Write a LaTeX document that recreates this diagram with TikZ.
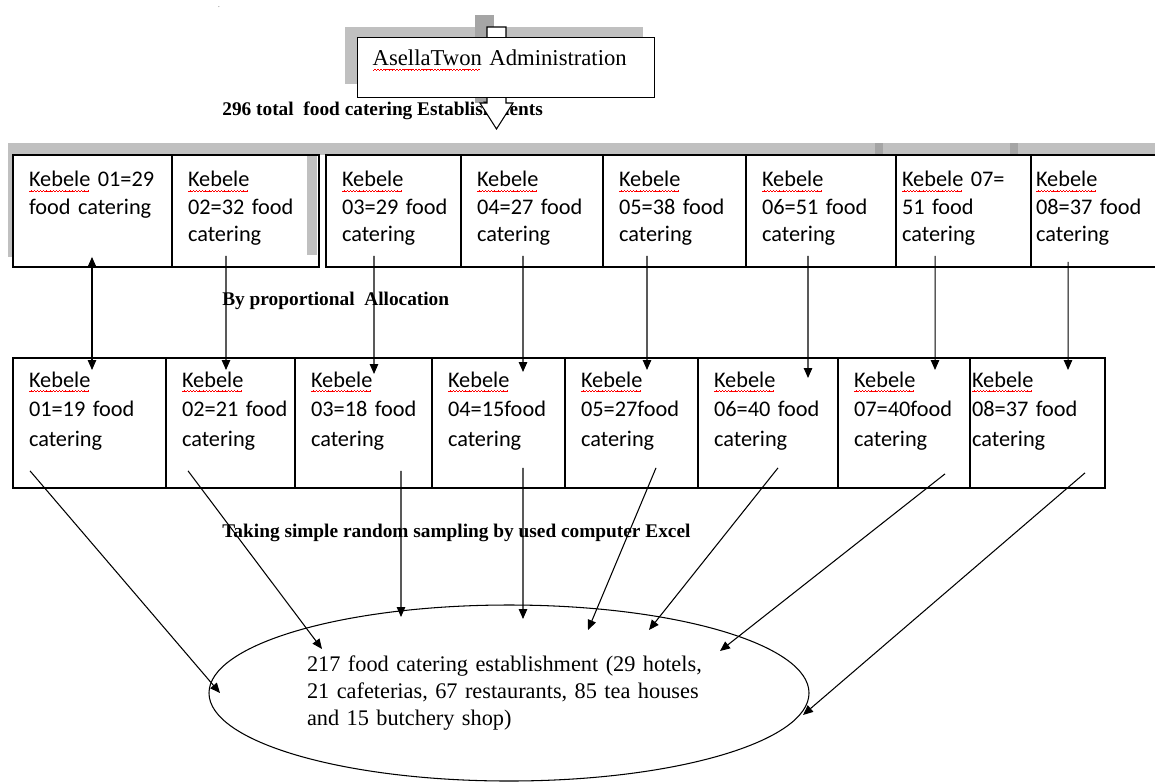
\documentclass[tikz,border=0pt]{standalone}
\usepackage{fontspec}
\setmainfont{Liberation Serif}
\newfontfamily\kebfont{Carlito}
\usepackage{xcolor}
\usetikzlibrary{positioning, shapes.geometric, arrows.meta}

\definecolor{shadowgray}{RGB}{192,192,192}
\definecolor{shadowdark}{RGB}{165,165,165}

% red spell-check wave under a word
\newsavebox{\spellbox}
\newcommand{\wavebit}{\hbox{\rule[-2.9pt]{0.45pt}{0.45pt}\rule[-2.5pt]{0.45pt}{0.45pt}\rule[-2.1pt]{0.45pt}{0.45pt}\rule[-2.5pt]{0.45pt}{0.45pt}}}
\newcommand{\spell}[1]{\sbox{\spellbox}{#1}\rlap{\color{red}\leaders\wavebit\hskip\wd\spellbox}\usebox{\spellbox}}

\begin{document}
\begin{tikzpicture}[
        x=0.2mm, y=-0.2mm,
        kebox/.style={draw, line width=0.8pt, outer sep=0pt, inner xsep=3.2mm, align=left, text width=#1, text height=10pt, font=\kebfont\fontsize{12.7}{15.6}\selectfont},
        toprow/.style={kebox=#1, inner ysep=8.2pt, text depth=37.3pt},
        botrow/.style={kebox=#1, inner ysep=6.5pt, text depth=50.9pt, font=\kebfont\fontsize{12.7}{16.8}\selectfont},
        remark/.style={font=\fontsize{11}{13}\selectfont\bfseries, inner sep=0pt, anchor=base west},
        wordshadow/.style={fill=shadowgray, draw=none},
        arrow/.style={-{Triangle[length=2mm, width=1.7mm]}, line width=0.6pt},
        dblarrow/.style={{Triangle[length=2mm, width=1.7mm]}-{Triangle[length=2mm, width=1.7mm]}, line width=0.6pt},
    ]
    \useasboundingbox (0,0) rectangle (1155,783);

    % shadows
    \fill[wordshadow] (345,27) rectangle (643,84);
    \fill[shadowdark] (475,15) rectangle (494,103);
    \fill[wordshadow] (8,143) rectangle (317,155);
    \fill[wordshadow] (8,155) rectangle (13,257);
    \fill[wordshadow] (307,155) rectangle (317,255);
    \fill[wordshadow] (313,143) rectangle (1155,155);
    \fill[shadowdark] (875,143) rectangle (883,155);
    \fill[shadowdark] (1010,143) rectangle (1018,155);

    \node[font=\tiny, text=gray] (dot) at (219,7) {.};

    % administration and block arrow
    \node[remark] (total) at (222,115) {296 total\ \ food catering Establishments};
    \draw[fill=white, line width=0.6pt] (487,27) -- (506,27) -- (506,103) -- (513,103) -- (496.5,129) -- (480,103) -- (487,103) -- cycle;
    \node[draw, fill=white, line width=0.8pt, anchor=north west, inner xsep=3mm, inner ysep=6.9pt, text width=53.4mm, align=left, text height=9pt, text depth=11.3pt, font=\fontsize{12.9}{15}\selectfont] (admin) at (357,37) {\spell{AsellaTwon} Administration};

    % first row
    \node[toprow=25.4mm, anchor=north west] (t1) at (13,155) {\spell{Kebele}~01=29\\food~catering};
    \node[toprow=23mm, right=0pt of t1] (t2) {\spell{Kebele}\\02=32~food\\catering};
    \node[toprow=20.6mm, right=1.4mm of t2] (t3) {\spell{Kebele}\\03=29~food\\catering};
    \node[toprow=22mm, right=0pt of t3] (t4) {\spell{Kebele}\\04=27~food\\catering};
    \node[toprow=22.2mm, right=0pt of t4] (t5) {\spell{Kebele}\\05=38~food\\catering};
    \node[toprow=23.6mm, right=0pt of t5] (t6) {\spell{Kebele}\\06=51~food\\catering};
    \node[toprow=24.6mm, inner xsep=1.2mm, right=0pt of t6] (t7) {\spell{Kebele}~07=\\51~food\\catering};
    \node[toprow=26mm, inner xsep=1mm, right=0pt of t7] (t8) {\spell{Kebele}\\08=37~food\\catering};

    \node[remark] (alloc) at (222,305) {By proportional\ \ Allocation};

    % second row
    \node[botrow=24.2mm, anchor=north west] (b1) at (13,358) {\spell{Kebele}\\01=19~food\\catering};
    \node[botrow=19.4mm, right=0pt of b1] (b2) {\spell{Kebele}\\02=21~food\\catering};
    \node[botrow=21mm, right=0pt of b2] (b3) {\spell{Kebele}\\03=18~food\\catering};
    \node[botrow=20.2mm, right=0pt of b3] (b4) {\spell{Kebele}\\04=15food\\catering};
    \node[botrow=20.2mm, right=0pt of b4] (b5) {\spell{Kebele}\\05=27food\\catering};
    \node[botrow=21.6mm, right=0pt of b5] (b6) {\spell{Kebele}\\06=40~food\\catering};
    \node[botrow=20mm, right=0pt of b6] (b7) {\spell{Kebele}\\07=40food\\catering};
    \node[botrow=26.2mm, inner xsep=0.4mm, right=0pt of b7] (b8) {\spell{Kebele}\\08=37~food\\catering};

    \node[remark] (excel) at (222,537) {Taking simple random sampling by used computer Excel};

    % sample
    \node[ellipse, draw, line width=0.6pt, minimum width=120mm, minimum height=35.2mm, inner sep=0pt, text width=80.8mm, align=left, font=\fontsize{12.7}{15.3}\selectfont] (ell) at (509,693) {217 food catering establishment (29 hotels,\\21 cafeterias, 67 restaurants, 85 tea houses\\and 15 butchery shop)};

    % allocation arrows
    \draw[dblarrow] ([shift={(79,-10)}]t1.south west) -- ([shift={(79,12)}]b1.north west);
    \draw[arrow] ([shift={(54,-11)}]t2.south west) -- ([shift={(60,12)}]b2.north west);
    \draw[arrow] ([shift={(48,-11)}]t3.south west) -- ([shift={(79,16)}]b3.north west);
    \draw[arrow] ([shift={(62,-11)}]t4.south west) -- ([shift={(91,14)}]b4.north west);
    \draw[arrow] ([shift={(44,-11)}]t5.south west) -- ([shift={(82,12)}]b5.north west);
    \draw[arrow] ([shift={(62,-11)}]t6.south west) -- ([shift={(110,20)}]b6.north west);
    \draw[arrow] ([shift={(39,-11)}]t7.south west) -- ([shift={(97,12)}]b7.north west);
    \draw[arrow] ([shift={(37,-5)}]t8.south west) -- ([shift={(98,12)}]b8.north west);

    % sampling arrows
    \draw[arrow] ([shift={(17,-17)}]b1.south west) -- ([shift={(-289,0)}]ell.center);
    \draw[arrow] ([shift={(22,-17)}]b2.south west) -- ([shift={(-187,-44)}]ell.center);
    \draw[arrow] ([shift={(106,-17)}]b3.south west) -- ([shift={(-108,-76)}]ell.center);
    \draw[arrow] ([shift={(91,-20)}]b4.south west) -- ([shift={(14,-74)}]ell.center);
    \draw[arrow] ([shift={(91,-20)}]b5.south west) -- ([shift={(79,-63)}]ell.center);
    \draw[arrow] ([shift={(80,-20)}]b6.south west) -- ([shift={(140,-63)}]ell.center);
    \draw[arrow] ([shift={(107,-14)}]b7.south west) -- ([shift={(211,-42)}]ell.center);
    \draw[arrow] ([shift={(115,-15)}]b8.south west) -- ([shift={(294,22)}]ell.center);
\end{tikzpicture}
\end{document}
